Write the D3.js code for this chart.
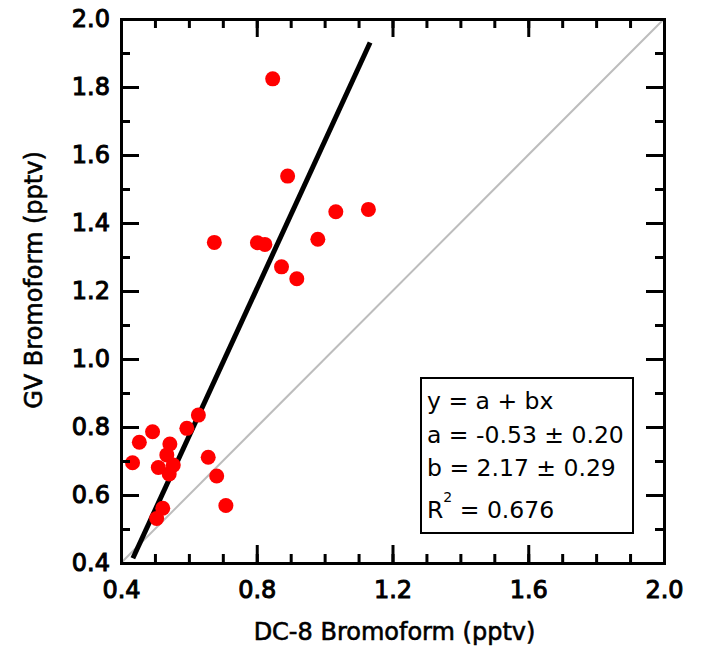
<!DOCTYPE html>
<html>
<head>
<meta charset="utf-8">
<script src="https://cdn.jsdelivr.net/npm/d3@7"></script>
<style>
  body { margin: 0; background: #fff; }
  text { font-family: "DejaVu Sans", sans-serif; }
</style>
</head>
<body>
<script>
// DC-8 vs GV bromoform
const dc8 = [0.847, 0.891, 1.033, 1.129, 0.802, 0.824, 0.980, 0.873, 0.918, 0.675,
             0.628, 0.594, 0.493, 0.454, 0.544, 0.434, 0.535, 0.510, 0.554, 0.542,
             0.657, 0.682, 0.709, 0.523, 0.505];
const gv  = [1.824, 1.538, 1.433, 1.440, 1.342, 1.337, 1.352, 1.271, 1.236, 1.343,
             0.835, 0.796, 0.786, 0.755, 0.750, 0.695, 0.718, 0.681, 0.688, 0.662,
             0.711, 0.656, 0.569, 0.561, 0.531];
const fitA = -0.53, fitB = 2.17;
const fitRange = [0.435, 1.134];
const xMajor = [0.4, 0.8, 1.2, 1.6, 2.0];
const yMajor = [0.4, 0.6, 0.8, 1.0, 1.2, 1.4, 1.6, 1.8, 2.0];
const minorTicks = d3.range(4, 21).map(d => d / 10);
const fitLines = ["y = a + bx", "a = -0.53 \u00b1 0.20", "b = 2.17 \u00b1 0.29"];

const width = 702, height = 647;
const mLeft = 121, mRight = 664, mTop = 19, mBottom = 563;

const svg = d3.select("body").append("svg")
  .attr("width", width).attr("height", height);

const x = d3.scaleLinear().domain([0.4, 2.0]).range([mLeft, mRight]);
const y = d3.scaleLinear().domain([0.4, 2.0]).range([mBottom, mTop]);
const fmt = d3.format(".1f");

// 1:1 line
svg.append("line")
  .attr("x1", x(0.4)).attr("y1", y(0.4)).attr("x2", x(2.0)).attr("y2", y(2.0))
  .attr("stroke", "#bdbdbd").attr("stroke-width", 2);

// fit line
svg.append("line")
  .attr("x1", x(fitRange[0])).attr("y1", y(fitA + fitB * fitRange[0]))
  .attr("x2", x(fitRange[1])).attr("y2", y(fitA + fitB * fitRange[1]))
  .attr("stroke", "#000").attr("stroke-width", 5);

// points
svg.append("g").selectAll("circle")
  .data(dc8.map((d, i) => [d, gv[i]]))
  .enter().append("circle")
  .attr("cx", d => x(d[0])).attr("cy", d => y(d[1]))
  .attr("r", 7.5).attr("fill", "#ff0000");

// axes on all four sides, ticks pointing in
function axis(gen, scale, tx, ty, major, labels) {
  const gMinor = svg.append("g").attr("transform", `translate(${tx},${ty})`)
    .call(gen(scale).tickValues(minorTicks).tickSize(-9).tickFormat(""));
  const gMajor = svg.append("g").attr("transform", `translate(${tx},${ty})`)
    .call(gen(scale).tickValues(major).tickSize(-18)
      .tickPadding(labels ? (gen === d3.axisBottom ? 18 : 11) : 0)
      .tickFormat(labels ? fmt : ""));
  [gMinor, gMajor].forEach(g => {
    g.select(".domain").attr("stroke-width", 3);
    g.selectAll(".tick line").attr("stroke-width", 3);
  });
  gMajor.selectAll("text")
    .attr("font-size", 24).attr("font-family", "DejaVu Sans")
    .attr("fill", "#000").attr("stroke", "#000").attr("stroke-width", 1);
}
axis(d3.axisBottom, x, 0, mBottom, xMajor, true);
axis(d3.axisTop, x, 0, mTop, xMajor, false);
axis(d3.axisLeft, y, mLeft, 0, yMajor, true);
axis(d3.axisRight, y, mRight, 0, yMajor, false);

// axis titles
svg.append("text")
  .attr("x", (mLeft + mRight) / 2 + 2).attr("y", 640)
  .attr("text-anchor", "middle").attr("font-size", 24)
  .attr("stroke", "#000").attr("stroke-width", 0.6)
  .text("DC-8 Bromoform (pptv)");

svg.append("text")
  .attr("transform", `translate(42,${(mTop + mBottom) / 2 - 11}) rotate(-90)`)
  .attr("text-anchor", "middle").attr("font-size", 24)
  .attr("stroke", "#000").attr("stroke-width", 0.6)
  .text("GV Bromoform (pptv)");

// fit box
svg.append("rect")
  .attr("x", 421).attr("y", 378).attr("width", 212).attr("height", 155)
  .attr("fill", "#fff").attr("stroke", "#000").attr("stroke-width", 2);

svg.selectAll(".fit").data(fitLines).enter().append("text")
  .attr("class", "fit")
  .attr("x", 427).attr("y", (d, i) => 409 + i * 33.5)
  .attr("font-size", 23.5).text(d => d);

const r2 = svg.append("text").attr("x", 427).attr("y", 518).attr("font-size", 23.5);
r2.append("tspan").text("R");
r2.append("tspan").attr("font-size", 14).attr("dy", -16).text("2");
r2.append("tspan").attr("dy", 16).text(" = 0.676");
</script>
</body>
</html>
